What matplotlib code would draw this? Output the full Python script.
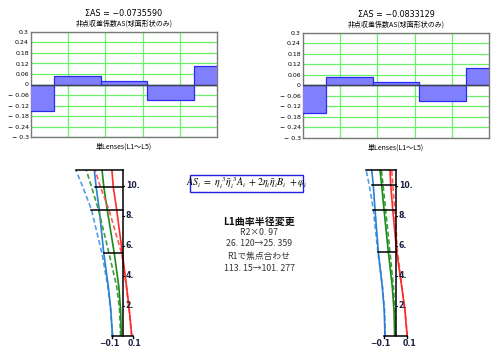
import matplotlib
matplotlib.use('Agg')
import matplotlib.pyplot as plt
from matplotlib.patches import Rectangle

plt.rcParams['font.family'] = ['Noto Sans CJK JP', 'DejaVu Sans']
plt.rcParams['mathtext.fontset'] = 'stix'

W, H = 497, 357
fig = plt.figure(figsize=(W / 100, H / 100), dpi=100)

# ---------------- data ----------------
lens_ids = [1, 2, 3, 4, 5]
as_left = [-0.149, 0.050, 0.020, -0.087, 0.103]
as_right = [-0.160, 0.051, 0.022, -0.090, 0.100]
titles = ["ΣAS = −0.0735590", "ΣAS = −0.0833129"]
subtitle = "非点収差係数AS(球面形状のみ)"
bar_xlabel = "単Lenses(L1〜L5)"
bar_yticks = [0.3, 0.24, 0.18, 0.12, 0.06, 0, -0.06, -0.12, -0.18, -0.24, -0.3]
bar_ytick_labels = ["0.3", "0.24", "0.18", "0.12", "0.06", "0",
                    "− 0.06", "− 0.12", "− 0.18", "− 0.24", "− 0.3"]

# spherical aberration curves (height vs. aberration)
h_left = [0, 1.73, 3.3, 5.5, 8.4, 9.95, 11.07]
left_blue = [-0.097, -0.113, -0.137, -0.180, -0.223, -0.253, -0.270]
left_blue_d = [-0.097, -0.115, -0.142, -0.197, -0.297, -0.380, -0.447]
left_green = [-0.013, -0.020, -0.037, -0.080, -0.147, -0.180, -0.197]
left_green_d = [-0.020, -0.030, -0.057, -0.130, -0.230, -0.297, -0.347]
left_red = [0.087, 0.063, 0.037, -0.003, -0.057, -0.090, -0.103]
left_red_d = [0.085, 0.061, 0.034, -0.010, -0.130, -0.213, -0.263]
left_rays_h = [11.07, 9.95, 8.4, 5.53]
left_rays_x = [-0.447, -0.267, -0.305, -0.181]

h_right = [0, 1.73, 3.3, 5.6, 8.45, 10.05, 11.1]
right_blue = [-0.093, -0.100, -0.117, -0.151, -0.180, -0.195, -0.209]
right_blue_d = [-0.090, -0.097, -0.115, -0.155, -0.195, -0.230, -0.258]
right_green = [-0.009, -0.015, -0.030, -0.064, -0.102, -0.122, -0.137]
right_green_d = [-0.005, -0.008, -0.020, -0.050, -0.088, -0.110, -0.125]
right_red = [0.100, 0.080, 0.052, 0.009, -0.026, -0.043, -0.050]
right_red_d = [0.100, 0.081, 0.054, 0.015, -0.008, -0.025, -0.035]
right_rays_h = [11.1, 10.05, 8.4, 5.6]
right_rays_x = [-0.258, -0.209, -0.195, -0.157]

aber_yticks = [2, 4, 6, 8, 10]
aber_ytick_labels = ["2.", "4.", "6.", "8.", "10."]

note_title = "L1曲率半径変更"
note_lines = ["R2×0. 97", "26. 120→25. 359", "R1で焦点合わせ", "113. 15→101. 277"]
formula = r"$AS_i\ =\ \eta_i^{\ 3}\bar{\eta}_i^{\ 3}A_i\ +2\eta_i\bar{\eta}_iB_i\ +\varphi_i$"


def px_axes(x0, y0, x1, y1):
    return fig.add_axes([x0 / W, 1 - y1 / H, (x1 - x0) / W, (y1 - y0) / H])


# ---------------- bar charts ----------------
def bar_chart(box, vals, title):
    ax = px_axes(*box)
    ax.set_xlim(1, 5)
    ax.set_ylim(-0.3, 0.3)
    ax.bar(lens_ids, vals, width=1.0, color='#8080ff', edgecolor='#2a2af0',
           linewidth=0.9, zorder=3)
    ax.axhline(0, color='#404048', lw=1.0, zorder=4)
    ax.set_yticks(bar_yticks)
    ax.set_yticklabels(bar_ytick_labels, fontsize=4.5, family='DejaVu Sans')
    ax.set_xticks([1 + 0.8 * k for k in range(1, 5)])
    ax.set_xticklabels([])
    ax.tick_params(length=0, pad=1.5)
    ax.grid(True, color='#6cf06c', lw=0.9, zorder=1)
    for s in ax.spines.values():
        s.set_color('#7a7a7a')
        s.set_linewidth(1.0)
    ax.text(0.5, 1.178, title, transform=ax.transAxes, ha='center', va='center',
            fontsize=5.8, family='DejaVu Sans')
    ax.text(0.5, 1.076, subtitle, transform=ax.transAxes, ha='center', va='center',
            fontsize=5.0)
    ax.text(0.5, -0.095, bar_xlabel, transform=ax.transAxes, ha='center', va='center',
            fontsize=5.0)
    return ax


bar_chart((31, 32, 217, 137), as_left, titles[0])
bar_chart((303, 33, 489, 138), as_right, titles[1])


# ---------------- aberration plots ----------------
def aber_plot(center_px, scale, xlim, h, curves, rays_h, rays_x, lab_x):
    y0px, ypx = 336.0, 15.0
    ylim = (-0.6, 11.4)
    x0 = center_px + xlim[0] * scale
    x1 = center_px + xlim[1] * scale
    yb = y0px - ylim[0] * ypx
    yt = y0px - ylim[1] * ypx
    ax = px_axes(x0, yt, x1, yb)
    ax.set_xlim(*xlim)
    ax.set_ylim(*ylim)
    ax.axis('off')
    for vals, col, ls in curves:
        ax.plot(vals, h, color=col, lw=1.2, ls=ls, solid_capstyle='butt')
    # frame lines
    ax.plot([0, 0], [0, h[-1]], color='black', lw=1.1)
    ax.plot([-0.1, 0.1], [0, 0], color='black', lw=1.1)
    for xv in (-0.1, 0.1):
        ax.plot([xv, xv], [0, -0.15], color='black', lw=1.0)
    for yy, xx in zip(rays_h, rays_x):
        ax.plot([xx, 0], [yy, yy], color='black', lw=1.1)
    for yv, lab in zip(aber_yticks, aber_ytick_labels):
        ax.plot([0, 1.5 / scale], [yv, yv], color='black', lw=0.8)
        ax.text(3.0 / scale, yv, lab, ha='left', va='center', fontsize=5.6,
                fontweight='bold', color='#1a2040', family='DejaVu Sans')
    ax.text(lab_x[0], -0.5, "−0.1", ha='center', va='center', fontsize=5.6,
            fontweight='bold', color='#1a2040', family='DejaVu Sans', clip_on=False)
    ax.text(lab_x[1], -0.5, "0.1", ha='center', va='center', fontsize=5.6,
            fontweight='bold', color='#1a2040', family='DejaVu Sans', clip_on=False)
    return ax


blue, blue_l = '#2a7fd0', '#4f9fe6'
green, green_l = '#1a8a1a', '#3aa03a'
red, red_l = '#ff2a2a', '#ff5a5a'
dash = (0, (3.0, 1.6))

aber_plot(122.7, 105.0, (-0.5, 0.2), h_left,
          [(left_blue_d, blue_l, dash), (left_blue, blue, '-'),
           (left_green_d, green_l, dash), (left_green, green, '-'),
           (left_red_d, red_l, dash), (left_red, red, '-')],
          left_rays_h, left_rays_x, (-0.13, 0.117))

aber_plot(395.7, 115.0, (-0.35, 0.2), h_right,
          [(right_blue_d, blue_l, dash), (right_blue, blue, '-'),
           (right_green_d, green_l, dash), (right_green, green, '-'),
           (right_red_d, red_l, dash), (right_red, red, '-')],
          right_rays_h, right_rays_x, (-0.13, 0.124))

# ---------------- formula box & notes ----------------
fig.patches.append(Rectangle((190 / W, 1 - 192 / H), 113 / W, 17 / H,
                             transform=fig.transFigure, fill=True, facecolor='white',
                             edgecolor='#2020e0', lw=1.0))
fig.text(246.5 / W, 1 - 183.5 / H, formula, ha='center', va='center', fontsize=7.2)

fig.text(259 / W, 1 - 222.3 / H, note_title, ha='center', va='center',
         fontsize=7.2, fontweight='bold', color='#111111')
for yy, line in zip([232.3, 243.5, 256, 268.7], note_lines):
    fig.text(259 / W, 1 - yy / H, line, ha='center', va='center',
             fontsize=6.3, color='#333333')

fig.savefig('out.png', dpi=100)
